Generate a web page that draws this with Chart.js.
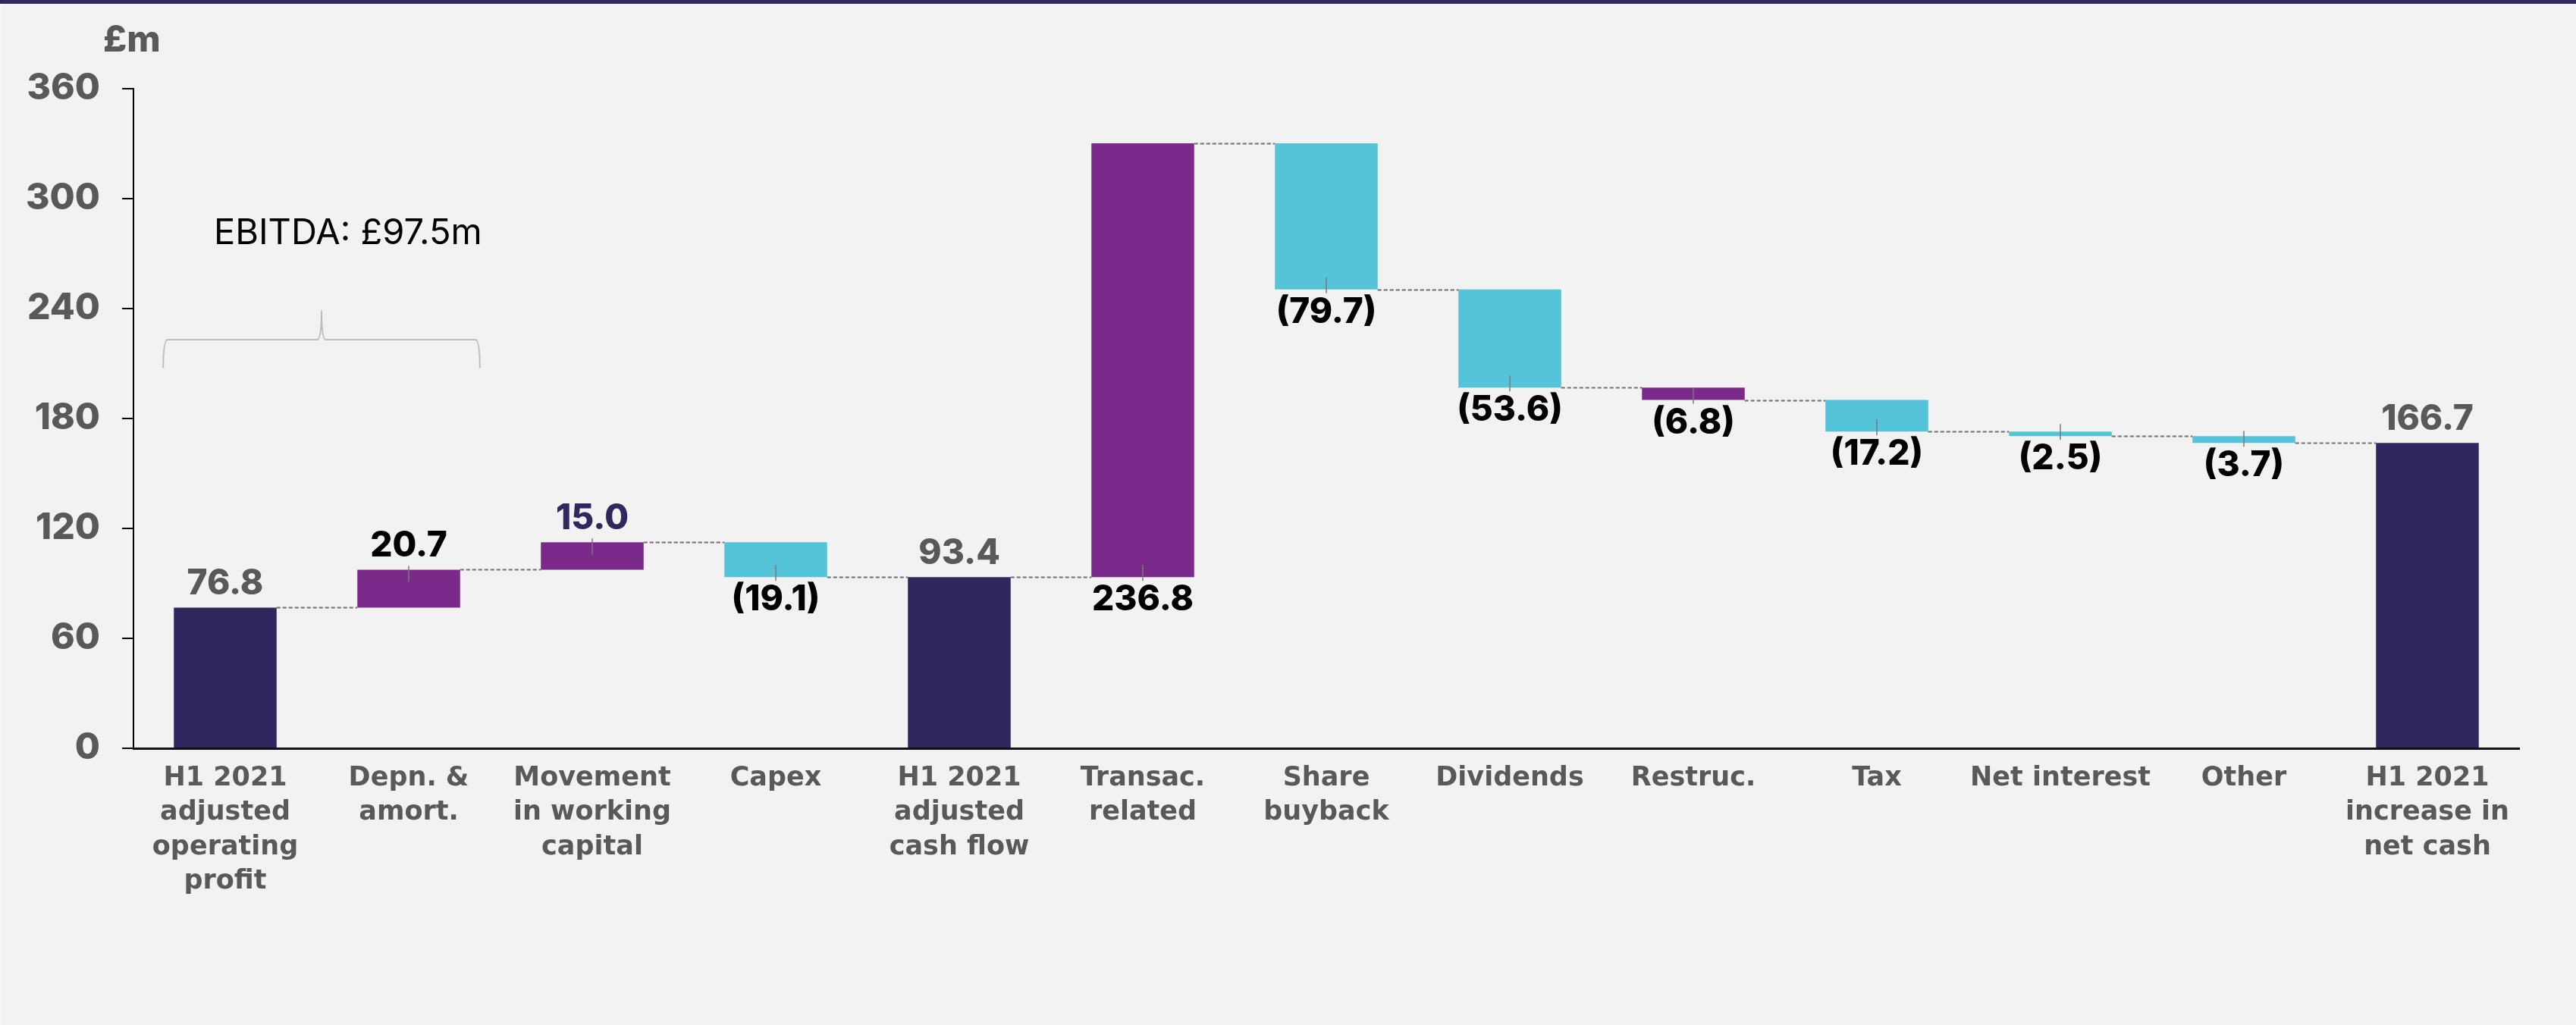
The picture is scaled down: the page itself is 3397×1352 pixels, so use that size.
<!DOCTYPE html>
<html>
<head>
<meta charset="utf-8">
<script src="https://cdn.jsdelivr.net/npm/chart.js@4.4.1/dist/chart.umd.min.js"></script>
<style>
  html, body { margin: 0; padding: 0; background: #f2f2f2; }
  #wrap { width: 3397px; height: 1352px; position: relative; }
</style>
</head>
<body>
<div id="wrap"><canvas id="c" width="3397" height="1352"></canvas></div>
<script>
// ---- data ----
const categories = [
  ['H1 2021', 'adjusted', 'operating', 'profit'],
  ['Depn. &', 'amort.'],
  ['Movement', 'in working', 'capital'],
  ['Capex'],
  ['H1 2021', 'adjusted', 'cash flow'],
  ['Transac.', 'related'],
  ['Share', 'buyback'],
  ['Dividends'],
  ['Restruc.'],
  ['Tax'],
  ['Net interest'],
  ['Other'],
  ['H1 2021', 'increase in', 'net cash']
];
// totals are absolute, other values are changes
const values = [76.8, 20.7, 15.0, -19.1, 93.4, 236.8, -79.7, -53.6, -6.8, -17.2, -2.5, -3.7, 166.7];
const kinds  = ['total', 'delta', 'delta', 'delta', 'total', 'delta', 'delta', 'delta', 'delta', 'delta', 'delta', 'delta', 'total'];
const yTicks = [0, 60, 120, 180, 240, 300, 360];
const unitLabel = '£m';

// ---- styles ----
const NAVY = '#30275f', PURPLE = '#7b2a8c', CYAN = '#55c4d8';
const barColors = [NAVY, PURPLE, PURPLE, CYAN, NAVY, PURPLE, CYAN, CYAN, PURPLE, CYAN, CYAN, CYAN, NAVY];
const labelColors = ['#595959', '#000', NAVY, '#000', '#595959', '#000', '#000', '#000', '#000', '#000', '#000', '#000', '#595959'];
const labelBelowIdx = new Set([5]); // transaction-related label sits under its bar

// build floating ranges for the library
const ranges = [];
const ends = [];
let run = 0;
values.forEach((v, i) => {
  if (kinds[i] === 'total') { ranges.push([0, v]); run = v; }
  else { const s = run, e = run + v; ranges.push([Math.min(s, e), Math.max(s, e)]); run = e; }
  ends.push(run);
});
const ebitda = values[0] + values[1];

const LABEL_FONT = '800 46px Inter, "DejaVu Sans", sans-serif';

const waterfallPlugin = {
  id: 'waterfall',
  beforeDraw(chart) {
    const ctx = chart.ctx;
    ctx.save();
    ctx.fillStyle = '#f2f2f2';
    ctx.fillRect(0, 0, chart.width, chart.height);
    ctx.fillStyle = '#f7f7f7';
    ctx.fillRect(0, 0, 2, chart.height);
    ctx.fillStyle = '#30275f';
    ctx.fillRect(0, 0, chart.width, 5);
    ctx.restore();
  },
  afterDatasetsDraw(chart) {
    const ctx = chart.ctx;
    const y = chart.scales.y;
    const meta = chart.getDatasetMeta(0);
    const bars = meta.data;
    ctx.save();
    // connectors
    ctx.strokeStyle = '#6e6e6e';
    ctx.lineWidth = 2;
    ctx.setLineDash([5, 3]);
    for (let i = 0; i < bars.length - 1; i++) {
      const a = bars[i], b = bars[i + 1];
      const py = Math.round(y.getPixelForValue(ends[i])) + 0.5;
      ctx.beginPath();
      ctx.moveTo(a.x + a.width / 2, py);
      ctx.lineTo(b.x - b.width / 2, py);
      ctx.stroke();
    }
    ctx.setLineDash([]);
    // labels + leader ticks
    ctx.font = LABEL_FONT;
    ctx.textAlign = 'center';
    ctx.textBaseline = 'alphabetic';
    bars.forEach((bar, i) => {
      const v = values[i];
      const topPx = y.getPixelForValue(ranges[i][1]);
      const botPx = y.getPixelForValue(ranges[i][0]);
      const below = v < 0 || labelBelowIdx.has(i);
      const txt = v < 0 ? '(' + Math.abs(v).toFixed(1) + ')' : v.toFixed(1);
      if (kinds[i] === 'delta') {
        ctx.strokeStyle = '#7a7a7a';
        ctx.lineWidth = 1.5;
        ctx.beginPath();
        if (below) { ctx.moveTo(bar.x, botPx - 16); ctx.lineTo(bar.x, botPx + 5); }
        else { ctx.moveTo(bar.x, topPx - 5); ctx.lineTo(bar.x, topPx + 16); }
        ctx.stroke();
      }
      ctx.fillStyle = labelColors[i];
      if (below) ctx.fillText(txt, bar.x, botPx + 44);
      else ctx.fillText(txt, bar.x, topPx - 17);
    });
    // unit label
    ctx.font = '800 48px Inter, "DejaVu Sans", sans-serif';
    ctx.fillStyle = '#595959';
    ctx.textAlign = 'left';
    ctx.fillText(unitLabel, 136, 68);
    // EBITDA annotation
    const b0 = bars[0], b1 = bars[1];
    ctx.font = '47px Inter, "DejaVu Sans", sans-serif';
    ctx.fillStyle = '#000';
    ctx.fillText('EBITDA: £' + ebitda.toFixed(1) + 'm', b0.x - 15, y.getPixelForValue(275));
    const L = b0.x - b0.width / 2 - 14, R = b1.x + b1.width / 2 + 26;
    const M = (L + R) / 2;
    const yb = y.getPixelForValue(207.5), yh = y.getPixelForValue(223), yp = y.getPixelForValue(239);
    ctx.strokeStyle = '#bdbdbd';
    ctx.lineWidth = 2;
    ctx.beginPath();
    ctx.moveTo(L, yb);
    ctx.quadraticCurveTo(L, yh, L + 6, yh);
    ctx.lineTo(M - 6, yh);
    ctx.quadraticCurveTo(M, yh, M, yp);
    ctx.quadraticCurveTo(M, yh, M + 6, yh);
    ctx.lineTo(R - 6, yh);
    ctx.quadraticCurveTo(R, yh, R, yb);
    ctx.stroke();
    ctx.restore();
  }
};

new Chart(document.getElementById('c'), {
  type: 'bar',
  data: {
    labels: categories,
    datasets: [{
      data: ranges,
      backgroundColor: barColors,
      borderWidth: 0,
      borderSkipped: false,
      categoryPercentage: 1,
      barPercentage: 0.56
    }]
  },
  options: {
    responsive: false,
    animation: false,
    devicePixelRatio: 1,
    layout: { padding: { top: 117, right: 75, bottom: 0, left: 0 } },
    plugins: { legend: { display: false }, tooltip: { enabled: false } },
    scales: {
      x: {
        grid: { display: false, drawTicks: false },
        border: { display: true, color: '#111', width: 3 },
        ticks: {
          color: '#595959',
          font: { family: '"DejaVu Sans", sans-serif', weight: 'bold', size: 35, lineHeight: 1.3 },
          padding: 17,
          maxRotation: 0,
          autoSkip: false
        },
        afterFit(s) { s.height = 1352 - 987; }
      },
      y: {
        min: 0, max: 360,
        afterBuildTicks(s) { s.ticks = yTicks.map(v => ({ value: v })); },
        grid: { display: true, drawOnChartArea: false, drawTicks: true, tickLength: 15, color: '#000', lineWidth: 2 },
        border: { display: true, color: '#000', width: 2 },
        ticks: {
          color: '#595959',
          font: { family: 'Inter, "DejaVu Sans", sans-serif', weight: '800', size: 48 },
          padding: 29
        },
        afterFit(s) { s.width = 176; }
      }
    }
  },
  plugins: [waterfallPlugin]
});
</script>
</body>
</html>
